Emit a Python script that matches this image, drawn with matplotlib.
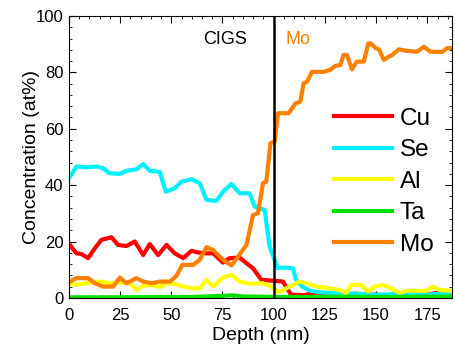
import matplotlib
matplotlib.use("Agg")
import matplotlib.pyplot as plt
from matplotlib.ticker import MultipleLocator

plt.rcParams['font.family'] = ['Liberation Sans', 'DejaVu Sans']

# values (depth in nm, concentration in at%)
cu_depth = [0.5, 3.7, 6, 9.4, 12.7, 15.9, 20.8, 24, 28.1, 32.2, 36.3, 39.5, 43.6, 47.7, 51.7,
            55.8, 59.9, 63.1, 67.2, 70.4, 75.3, 78.5, 83.4, 86.7, 89.9, 94, 101.3, 104.5, 107,
            108.6, 115, 120, 125, 130, 135, 140, 145, 150, 155, 160, 165, 170, 175, 180, 187]
cu_conc = [18.8, 15.8, 15.6, 14.1, 17.6, 20.6, 21.5, 18.8, 18.4, 20, 15.2, 19.1, 15.2, 18.8, 15.8,
           14.1, 16.7, 16.1, 15.8, 15.8, 12.5, 14.1, 14.3, 12.3, 10.5, 6.4, 6, 5.8, 2.8,
           1.1, 1.0, 1.8, 1.0, 1.2, 0.8, 1.5, 1.0, 1.2, 0.8, 1.4, 1.0, 1.5, 1.2, 1.8, 1.6]

se_depth = [0.5, 3.7, 8.6, 13.5, 16.7, 20, 24.9, 28.1, 33, 36.3, 39.5, 44.4, 47.3, 51.7, 55,
            59.9, 63.9, 67.2, 72, 75.3, 79.4, 83.4, 88.3, 90.7, 95.6, 98, 102, 104.4, 109.4,
            110.9, 114, 117.6, 122, 130, 140, 150, 160, 170, 180, 187]
se_conc = [42.9, 46.6, 46.3, 46.6, 46, 44.2, 44, 45.1, 45.6, 47.5, 45.1, 44.7, 37.7, 38.9, 41.2,
           42.1, 40.7, 34.8, 34.4, 37.7, 40.4, 37.1, 37.1, 32.4, 31.2, 18.2, 10.5, 10.8, 10.5,
           6.4, 4.0, 2.6, 2.0, 1.7, 1.5, 1.1, 1.3, 1.0, 1.4, 1.2]

al_depth = [0.5, 3.7, 10.2, 15.1, 20, 24.9, 29.8, 33, 36.3, 40.3, 44.4, 47.7, 51.7, 55.8, 59.9,
            63.9, 67.2, 70.4, 75.3, 79.4, 83.4, 88.3, 94.8, 98.9, 102, 103, 107.8, 112.7, 116,
            120.8, 127.3, 132.2, 135.4, 138, 142.8, 146, 149.3, 153.3, 157.4, 161.5, 164.7,
            174.5, 177.7, 181, 187]
al_conc = [5.2, 4.6, 5.4, 5.8, 5.2, 5.4, 5.2, 2.8, 4.3, 4.6, 3.8, 5.2, 5.0, 4.0, 3.4,
           3.4, 6.4, 4.0, 7.2, 8.2, 5.8, 5.0, 5.2, 4.0, 2.2, 2.2, 4.0, 5.8, 5.2,
           4.0, 3.4, 2.8, 1.7, 4.6, 4.6, 2.2, 4.0, 4.6, 3.4, 1.7, 2.5,
           2.5, 4.0, 2.8, 2.5]

ta_depth = [0, 20, 40, 60, 70, 75, 80, 85, 95, 110, 130, 150, 170, 187]
ta_conc = [0.2, 0.2, 0.3, 0.3, 0.6, 0.7, 0.9, 0.5, 0.4, 0.3, 0.4, 0.3, 0.4, 0.5]

mo_depth = [0.5, 3.7, 9.4, 12.7, 16.7, 21.6, 24.9, 28.1, 33, 36.3, 40.3, 44.4, 49.3, 52.5,
            55.4, 60.6, 63.9, 67.2, 70.4, 75.3, 79.4, 82.6, 86.7, 89.9, 92.3, 94.8, 96.4,
            98.4, 100.5, 102.1, 107.3, 110.6, 113, 114.6, 116.3, 118.7, 124.4, 127.6, 130,
            132.5, 134.1, 135.8, 138.2, 140.6, 144, 146.2, 147.3, 149.8, 151.4, 153.8, 156.2,
            157.9, 161.1, 164.4, 170, 173.3, 176.6, 182.3, 184.7, 187]
mo_conc = [5.8, 7, 7, 5.2, 4, 4, 7.2, 5.2, 7, 5.8, 5.2, 5.8, 5.8, 7.8,
           11.7, 11.7, 13.5, 18, 17, 13.5, 11.5, 14.6, 18.8, 29.4, 30, 40.7, 41.2,
           54.9, 55.4, 65.5, 65.5, 69, 69.6, 76.1, 76.7, 80.2, 80.2, 80.9, 82.3,
           82.6, 86.2, 86.2, 81.1, 83.8, 83.8, 90.3, 90.3, 88.6, 88.2, 84.4, 85.6,
           86.2, 88.2, 87.7, 87.3, 89.1, 87.3, 87.3, 88.6, 88.6]

fig = plt.figure(figsize=(4.56, 3.48), dpi=100)
ax = fig.add_axes([0.151, 0.144, 0.840, 0.810])

lw = 3.0
ax.plot(cu_depth, cu_conc, color='#ff0000', lw=lw, label='Cu')
ax.plot(se_depth, se_conc, color='#00f0ff', lw=lw, label='Se')
ax.plot(al_depth, al_conc, color='#ffff00', lw=lw, label='Al')
ax.plot(ta_depth, ta_conc, color='#00e000', lw=lw, label='Ta')
ax.plot(mo_depth, mo_conc, color='#ff8000', lw=lw, label='Mo')

ax.axvline(100, color='black', lw=1.8)
ax.text(76.3, 91.7, 'CIGS', fontsize=13, ha='center', va='center', color='black')
ax.text(112, 91.7, 'Mo', fontsize=13, ha='center', va='center', color='#ff8000')

ax.set_xlim(0, 187)
ax.set_ylim(0, 100)
ax.xaxis.set_major_locator(MultipleLocator(25))
ax.xaxis.set_minor_locator(MultipleLocator(5))
ax.yaxis.set_major_locator(MultipleLocator(20))
ax.yaxis.set_minor_locator(MultipleLocator(4))
ax.tick_params(which='both', direction='in', top=True, right=True, labelsize=12)
ax.tick_params(axis='x', which='both', pad=7)
ax.tick_params(axis='y', which='both', pad=4)
ax.tick_params(which='major', length=5)
ax.tick_params(which='minor', length=2.5)
ax.set_xlabel('Depth (nm)', fontsize=14, labelpad=3)
ax.set_ylabel('Concentration (at%)', fontsize=14, labelpad=-3)

ax.legend(loc='upper left', bbox_to_anchor=(0.692, 0.675), frameon=False, fontsize=17.5,
          handlelength=2.4, handletextpad=0.3, labelspacing=0.39, borderpad=0,
          borderaxespad=0)

fig.savefig('out.png', dpi=100)
